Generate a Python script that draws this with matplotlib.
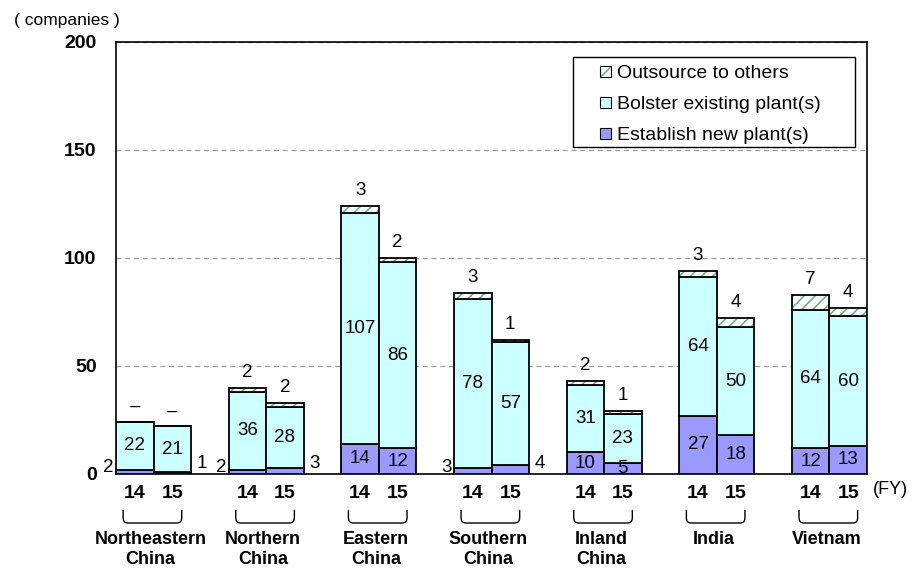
import matplotlib
matplotlib.use("Agg")
import matplotlib.pyplot as plt
import numpy as np
from matplotlib.patches import Patch, Rectangle, PathPatch
from matplotlib.path import Path
from matplotlib.transforms import blended_transform_factory

plt.rcParams['font.family'] = ['Liberation Sans', 'Noto Sans CJK JP', 'DejaVu Sans']
plt.rcParams['hatch.linewidth'] = 1.2

# ---- data -------------------------------------------------------------
regions = ["Northeastern\nChina", "Northern\nChina", "Eastern\nChina",
           "Southern\nChina", "Inland\nChina", "India", "Vietnam"]
years = ["14", "15"]

new_14 = [2, 2, 14, 3, 10, 27, 12]
new_15 = [1, 3, 12, 4, 5, 18, 13]
bolster_14 = [22, 36, 107, 78, 31, 64, 64]
bolster_15 = [21, 28, 86, 57, 23, 50, 60]
outsource_14 = [0, 2, 3, 3, 2, 3, 7]
outsource_15 = [0, 2, 2, 1, 1, 4, 4]

yticks = [0, 50, 100, 150, 200]

# ---- styling ----------------------------------------------------------
C_NEW = '#9999ff'
C_BOLSTER = '#ccffff'
C_HATCH = '#66b888'
EDGE_LW = 1.3
VAL_FS = 13.5

W, H = 914, 570
fig = plt.figure(figsize=(W / 100, H / 100), dpi=100)
ax = fig.add_axes([116 / W, 1 - 474 / H, 751 / W, 432 / H])

n = len(regions)
x14 = np.arange(n) * 3 + 0.5
x15 = np.arange(n) * 3 + 1.5

series = [(x14, np.array(new_14), np.array(bolster_14), np.array(outsource_14), 0),
          (x15, np.array(new_15), np.array(bolster_15), np.array(outsource_15), 1)]

for xs, new, bol, out, yi in series:
    ax.bar(xs, new, width=1.0, color=C_NEW, edgecolor='black', linewidth=EDGE_LW, zorder=3)
    ax.bar(xs, bol, bottom=new, width=1.0, color=C_BOLSTER, edgecolor='black',
           linewidth=EDGE_LW, zorder=3)
    ax.bar(xs, out, bottom=new + bol, width=1.0, facecolor='white', edgecolor=C_HATCH,
           hatch='///', linewidth=0, zorder=3)
    ax.bar(xs, out, bottom=new + bol, width=1.0, fill=False, edgecolor='black',
           linewidth=EDGE_LW, zorder=4)

    for x, nv, bv, ov in zip(xs, new, bol, out):
        # new plants
        if nv >= 5:
            ax.text(x, nv / 2, f"{nv}", ha='center', va='center', fontsize=VAL_FS, zorder=5)
        elif yi == 0:
            ax.annotate(f"{nv}", (x - 0.5, 0), xytext=(-2, 6), textcoords='offset pixels',
                        ha='right', va='center', fontsize=VAL_FS, zorder=5,
                        annotation_clip=False)
        else:
            ax.annotate(f"{nv}", (x + 0.5, 0), xytext=(6, 10), textcoords='offset pixels',
                        ha='left', va='center', fontsize=VAL_FS, zorder=5,
                        annotation_clip=False)
        # bolster existing
        ax.text(x, nv + bv / 2, f"{bv}", ha='center', va='center', fontsize=VAL_FS, zorder=5)
        # outsource
        label = f"{ov}" if ov > 0 else "–"
        ax.annotate(label, (x, nv + bv + ov), xytext=(0, 7), textcoords='offset pixels',
                    ha='center', va='bottom', fontsize=VAL_FS, zorder=5)

# ---- axes -------------------------------------------------------------
ax.set_xlim(0, 3 * n - 1)
ax.set_ylim(0, 200)
ax.set_yticks(yticks)
ax.set_yticklabels([str(v) for v in yticks], fontsize=14, fontweight='bold')
ax.tick_params(axis='y', length=0, pad=14)
ax.set_xticks(np.concatenate([x14, x15]))
ax.set_xticklabels([years[0]] * n + [years[1]] * n, fontsize=14, fontweight='bold')
ax.tick_params(axis='x', length=0, pad=8)
ax.yaxis.grid(True, linestyle=(0, (4, 3)), color='#999999', linewidth=0.9)
ax.set_axisbelow(True)
for s in ax.spines.values():
    s.set_linewidth(1.2)
    s.set_color('black')

# ---- legend -----------------------------------------------------------
ax.add_patch(Rectangle((0.6085, 0.757), 0.3755, 0.208, transform=ax.transAxes,
                       facecolor='white', edgecolor='black', linewidth=1.0, zorder=6))
h_out = (Patch(facecolor='white', edgecolor=C_HATCH, hatch='///', linewidth=0),
         Patch(fill=False, edgecolor='black', linewidth=0.8))
h_bol = Patch(facecolor=C_BOLSTER, edgecolor='black', linewidth=0.8)
h_new = Patch(facecolor=C_NEW, edgecolor='black', linewidth=0.8)
leg = ax.legend([h_out, h_bol, h_new],
                ["Outsource to others", "Bolster existing plant(s)", "Establish new plant(s)"],
                loc='upper left', bbox_to_anchor=(0.645, 0.946), frameon=False,
                fontsize=14, handlelength=0.52, handleheight=0.52, handletextpad=0.35,
                labelspacing=0.72, borderpad=0, borderaxespad=0)
leg.set_zorder(7)

# ---- region brackets and names ----------------------------------------
tr = blended_transform_factory(ax.transData, fig.transFigure)
y_top = 1 - 510 / H
y_bot = 1 - 523 / H
ry = 5 / H
rx = 0.13
for i, name in enumerate(regions):
    xc = 3 * i + 0.97
    hw = 0.78
    verts = [(xc - hw, y_top), (xc - hw, y_bot + ry), (xc - hw, y_bot), (xc - hw + rx, y_bot),
             (xc + hw - rx, y_bot), (xc + hw, y_bot), (xc + hw, y_bot + ry), (xc + hw, y_top)]
    codes = [Path.MOVETO, Path.LINETO, Path.CURVE3, Path.CURVE3,
             Path.LINETO, Path.CURVE3, Path.CURVE3, Path.LINETO]
    fig.add_artist(PathPatch(Path(verts, codes), transform=tr, fill=False,
                             edgecolor='black', linewidth=1.0))
    fig.text(3 * i + 0.92, 1 - 531 / H, name, transform=tr, ha='center', va='top',
             fontsize=13, fontweight='bold', linespacing=1.2)

fig.text(873 / W, 1 - 490 / H, "(FY)", ha='left', va='center', fontsize=13)
fig.text(14 / W, 1 - 20 / H, "( companies )", ha='left', va='center', fontsize=12.5)

fig.savefig("out.png", dpi=100)
